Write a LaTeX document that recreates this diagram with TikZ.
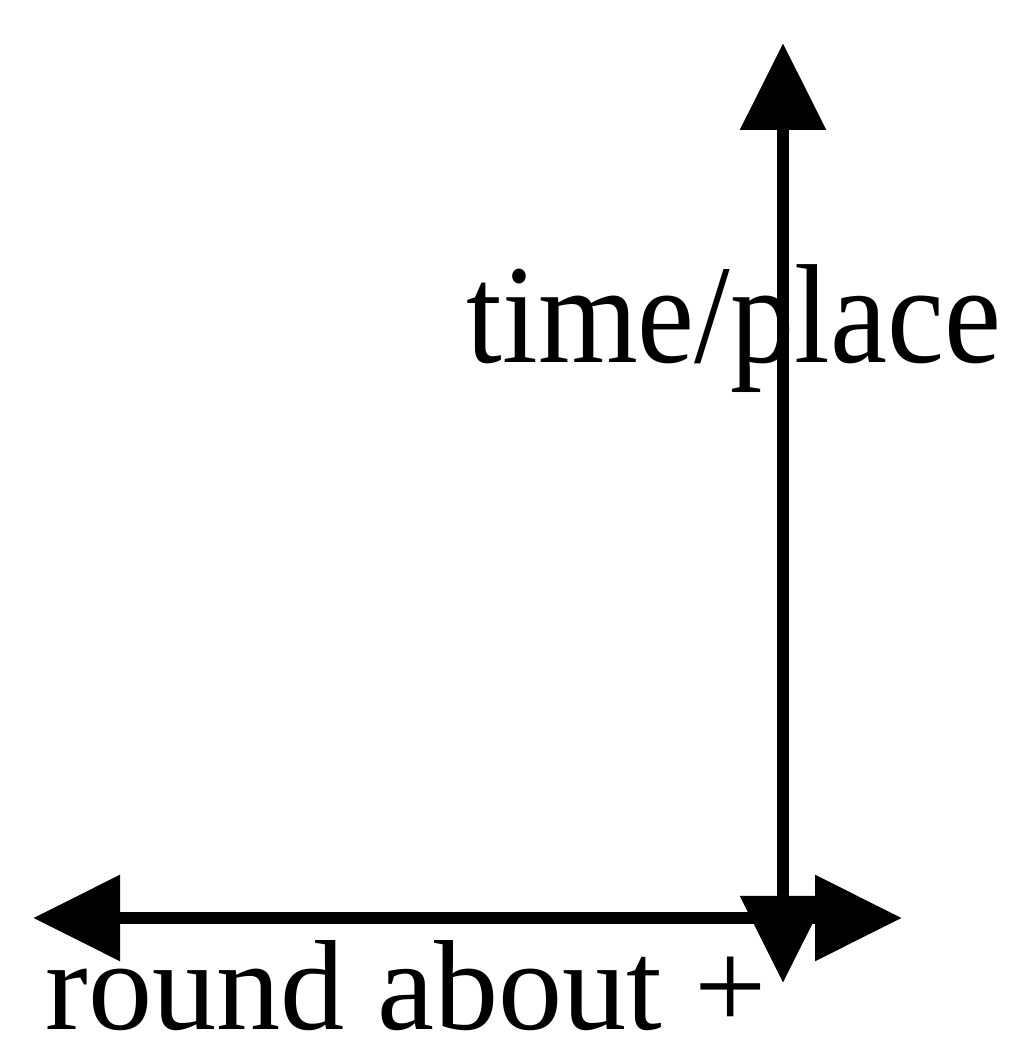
\documentclass[tikz,border=0pt]{standalone}
\usepackage{fontspec}
\setmainfont{Liberation Serif}
\usetikzlibrary{arrows.meta, positioning}

\begin{document}
\begin{tikzpicture}[
        axisline/.style={{Triangle[length=8.7mm, width=8.3mm]}-{Triangle[length=8.7mm, width=8.3mm]}, line width=3.6pt},
        axislabel/.style={inner sep=0pt, anchor=base west, font=\fontsize{36.5}{38}\selectfont}
    ]
        \useasboundingbox (0,0) rectangle (10.2,10.42);
        \coordinate (top) at (7.83,9.99);
        \coordinate (bottom) at (7.83,0.59);
        \coordinate (left) at (0.33,1.24);
        \coordinate (right) at (9.02,1.24);
        \draw[axisline] (left) -- (right);
        \draw[axisline] (bottom) -- (top);
        \node[axislabel, yscale=1.1, transform shape] (timeplace) at (4.66,6.79) {time/place};
        \node[axislabel, text depth=0pt] (roundabout) at (0.45,0.13) {round about +};
    \end{tikzpicture}
\end{document}
